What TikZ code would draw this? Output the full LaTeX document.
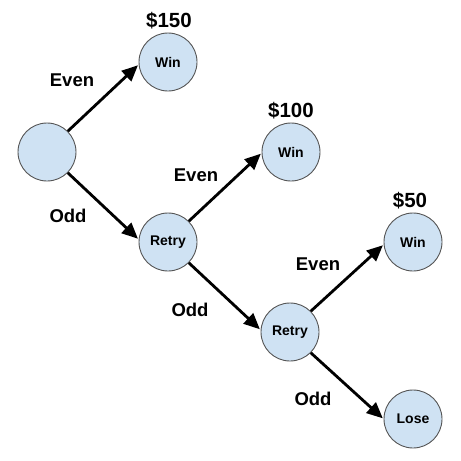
\documentclass[tikz,border=0pt]{standalone}
\usepackage{fontspec}
\setmainfont{Liberation Sans}
\usetikzlibrary{arrows.meta}
\definecolor{nodefill}{HTML}{CFE2F3}
\definecolor{nodeborder}{HTML}{555555}
\tikzset{
  state/.style={circle, draw=nodeborder, line width=0.9pt, fill=nodefill, minimum size=58pt, inner sep=0pt, font=\fontsize{14}{16}\selectfont\bfseries},
  edgelabel/.style={font=\fontsize{18.5}{20}\selectfont\bfseries, inner sep=0pt},
  prize/.style={font=\fontsize{20.5}{22}\selectfont\bfseries, inner sep=0pt},
  conn/.style={line width=2.8pt, -{Triangle[length=16pt,width=14pt]}, shorten >=1pt}
}
\begin{document}
\begin{tikzpicture}[x=1pt,y=-1pt]
\useasboundingbox (0,0) rectangle (461,461);
\node[state] (root) at (47,152) {};
\node[state] (w1) at (168,62) {Win};
\node[state] (r1) at (168,242) {Retry};
\node[state] (w2) at (291,152) {Win};
\node[state] (r2) at (290,332) {Retry};
\node[state] (w3) at (413,242) {Win};
\node[state] (lose) at (413,419) {Lose};
\node[prize] (p1) at (169,21) {\$150};
\node[prize] (p2) at (291,111) {\$100};
\node[prize] (p3) at (410,201) {\$50};
\node[edgelabel] (e1) at (72,80) {Even};
\node[edgelabel] (o1) at (68,216) {Odd};
\node[edgelabel] (e2) at (196,175) {Even};
\node[edgelabel] (o2) at (190,310) {Odd};
\node[edgelabel] (e3) at (318,264) {Even};
\node[edgelabel] (o3) at (313,399) {Odd};
\draw[conn] (root.45) -- (w1.185);
\draw[conn] (root.-45) -- (r1.175);
\draw[conn] (r1.45) -- (w2.182);
\draw[conn] (r1.-45) -- (r2.176);
\draw[conn] (r2.45) -- (w3.185);
\draw[conn] (r2.-45) -- (lose.180);
\end{tikzpicture}
\end{document}
